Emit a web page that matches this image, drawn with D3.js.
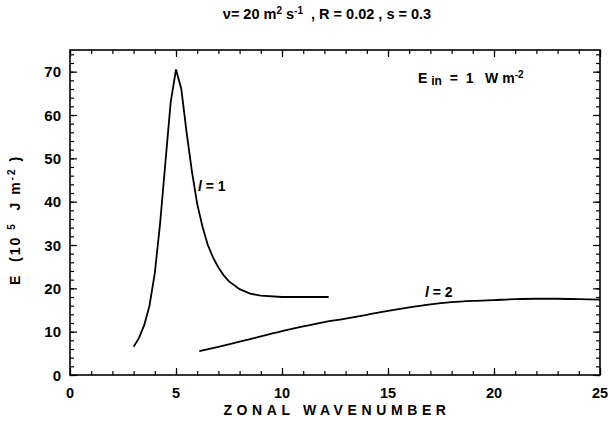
<!DOCTYPE html>
<html>
<head>
<meta charset="utf-8">
<script src="https://cdn.jsdelivr.net/npm/d3@7"></script>
<style>
body { margin: 0; background: #fff; }
text { font-family: "Liberation Sans", Arial, sans-serif; font-weight: bold; fill: #000; white-space: pre; }
</style>
</head>
<body>
<script>
// l = 1 curve
var k1 = [3.0, 3.25, 3.5, 3.75, 4.0, 4.25, 4.5, 4.75, 5.0, 5.25, 5.5, 5.75, 6.0, 6.25, 6.5, 6.75, 7.0, 7.25, 7.5, 8.0, 8.5, 9.0, 10.0, 11.0, 12.2]
var e1 = [6.5, 8.5, 11.5, 16, 23.5, 35, 49, 63, 70.5, 66, 56, 47, 39.5, 34.2, 30, 27.1, 24.8, 23.0, 21.6, 19.8, 18.8, 18.3, 18.0, 18.0, 18.0]
// l = 2 curve
var k2 = [6.1, 7, 8, 9, 10, 11, 12, 13, 14, 15, 16, 17, 18, 19, 20, 21, 22, 23, 24, 25]
var e2 = [5.5, 6.5, 7.7, 8.9, 10.1, 11.2, 12.2, 13.0, 13.9, 14.8, 15.6, 16.3, 16.8, 17.1, 17.3, 17.5, 17.6, 17.6, 17.5, 17.4]

var xMajor = [0, 5, 10, 15, 20, 25]
var yMajor = [0, 10, 20, 30, 40, 50, 60, 70]

var w = 608, h = 421
var x = d3.scaleLinear().domain([0, 25]).range([70, 600])
var y = d3.scaleLinear().domain([0, 75]).range([375, 50])

var svg = d3.select('body').append('svg')
	.attr('width', w)
	.attr('height', h)

function ticksAxis(axis, vals, size) {
	return axis.tickValues(vals).tickSize(-size).tickFormat('')
}

var xMinor = d3.range(0, 26, 1)
var yMinor = d3.range(0, 76, 2)

var axes = [
	[d3.axisBottom, x, 'translate(0,375)', xMinor, xMajor],
	[d3.axisTop, x, 'translate(0,50)', xMinor, xMajor],
	[d3.axisLeft, y, 'translate(70,0)', yMinor, yMajor],
	[d3.axisRight, y, 'translate(600,0)', yMinor, yMajor]
]
axes.forEach(function(a) {
	var g = svg.append('g').attr('transform', a[2])
	g.call(ticksAxis(a[0](a[1]), a[3], 4))
	g.select('.domain').remove()
	var g2 = svg.append('g').attr('transform', a[2])
	g2.call(ticksAxis(a[0](a[1]), a[4], 7))
	g2.select('.domain').remove()
})
svg.selectAll('.tick line').attr('stroke', '#000').attr('stroke-width', 1.2)

svg.append('rect')
	.attr('x', 70).attr('y', 50)
	.attr('width', 530).attr('height', 325)
	.attr('fill', 'none').attr('stroke', '#000').attr('stroke-width', 1.6)

// tick labels
svg.selectAll('.xl').data(xMajor).enter().append('text')
	.attr('x', function(d) { return x(d) })
	.attr('y', 398)
	.attr('text-anchor', 'middle')
	.style('font-size', '14.5px')
	.text(function(d) { return d })

svg.selectAll('.yl').data(yMajor).enter().append('text')
	.attr('x', 61)
	.attr('y', function(d) { return y(d) + 5.5 })
	.attr('text-anchor', 'end')
	.style('font-size', '15px')
	.text(function(d) { return d })

var line = d3.line()
	.x(function(d) { return x(d[0]) })
	.y(function(d) { return y(d[1]) })

svg.append('path')
	.datum(d3.zip(k1, e1))
	.attr('d', line)
	.attr('fill', 'none').attr('stroke', '#000').attr('stroke-width', 1.8)

svg.append('path')
	.datum(d3.zip(k2, e2))
	.attr('d', line.curve(d3.curveMonotoneX))
	.attr('fill', 'none').attr('stroke', '#000').attr('stroke-width', 1.8)

// axis titles
svg.append('text')
	.attr('x', 337).attr('y', 415)
	.attr('text-anchor', 'middle')
	.style('font-size', '14px')
	.style('letter-spacing', '4.6px')
	.text('ZONAL WAVENUMBER')

var yl = svg.append('text')
	.attr('transform', 'translate(20,220) rotate(-90)')
	.attr('text-anchor', 'middle')
	.style('font-size', '14px')
	.style('letter-spacing', '2px')
yl.append('tspan').text('E  (10 ')
yl.append('tspan').attr('dy', -5).style('font-size', '10px').text('5')
yl.append('tspan').attr('dy', 5).text('  J m')
yl.append('tspan').attr('dy', -5).style('font-size', '10px').text('-2')
yl.append('tspan').attr('dy', 5).text(' )')

// title
var t = svg.append('text')
	.attr('x', 327).attr('y', 19)
	.attr('text-anchor', 'middle')
	.style('font-size', '14.5px')
t.append('tspan').text('ν= 20 m')
t.append('tspan').attr('dy', -5).style('font-size', '10px').text('2')
t.append('tspan').attr('dy', 5).text(' s')
t.append('tspan').attr('dy', -5).style('font-size', '10px').text('-1')
t.append('tspan').attr('dy', 5).text('  , R = 0.02 , s = 0.3')

// forcing note
var f = svg.append('text')
	.attr('x', 418).attr('y', 83)
	.style('font-size', '14px')
f.append('tspan').text('E ')
f.append('tspan').attr('dy', 2).style('font-size', '12px').text('in')
f.append('tspan').attr('dy', -2).text('  =  1   W m')
f.append('tspan').attr('dy', -5).style('font-size', '10px').text('-2')

// curve labels
var l1 = svg.append('text').attr('x', 198).attr('y', 191).style('font-size', '14px')
l1.append('tspan').style('font-style', 'italic').text('l')
l1.append('tspan').text(' = 1')
var l2 = svg.append('text').attr('x', 425).attr('y', 297).style('font-size', '14px')
l2.append('tspan').style('font-style', 'italic').text('l')
l2.append('tspan').text(' = 2')
</script>
</body>
</html>
